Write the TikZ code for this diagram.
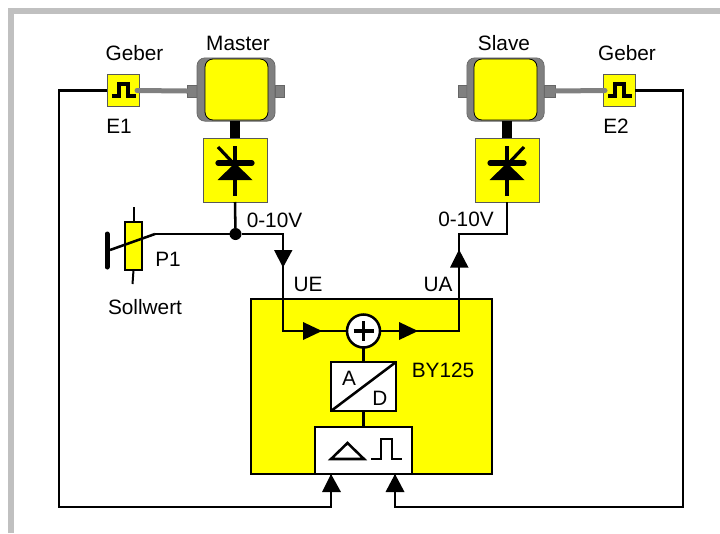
\documentclass[tikz,border=0pt]{standalone}
\usepackage{fontspec}
\setmainfont{Liberation Sans}
\usetikzlibrary{calc}
\definecolor{yel}{RGB}{255,255,0}
\definecolor{gry}{RGB}{128,128,128}
\definecolor{frm}{RGB}{192,192,192}
\tikzset{
  x=0.75pt,y=-0.75pt,
  every node/.style={outer sep=0pt,inner sep=0pt},
  lbl/.style={font=\fontsize{15.6}{18}\selectfont,text=black},
  wire/.style={line width=1.9pt,black,line join=miter},
  arr/.style={fill=black,draw=none},
  sym/.style={line width=1.9pt,black,line join=miter},
  ybox/.style={fill=yel,draw=black!65,line width=.7pt},
  wbox/.style={fill=white,draw=black,line width=1.9pt},
  stub/.style={draw=black!60,fill=gry,line width=.5pt,minimum height=9pt},
  housing/.style={draw=black!60,fill=gry,line width=.5pt,rounded corners=6pt},
  core/.style={draw=black,fill=yel,line width=.6pt,rounded corners=6pt},
  shaft/.style={gry,line width=3.75pt},
  dshaft/.style={black,line width=7.5pt},
}
\newcommand{\thyr}[2]{% centre x, slash sign
  \draw[black,line width=2.4pt] (#1,146) -- (#1,196);
  \fill[black] (#1-17.5,180) -- (#1+17.5,180) -- (#1,163) -- cycle;
  \draw[black,line width=3.9pt,line cap=round] (#1-17,163) -- (#1+17,163);
  \draw[black,line width=2.4pt] (#1,165) -- (#1+#2*17,147);
}
\newcommand{\pulse}[1]{%
  \draw[black,line width=2.4pt,line join=miter] (#1-11,96) -- (#1-4,96) -- (#1-4,84) -- (#1+5,84) -- (#1+5,96) -- (#1+13,96);
}
\begin{document}
\begin{tikzpicture}
\useasboundingbox (0,0) rectangle (720,533);
\fill[white] (0,0) rectangle (720,533);
\draw[frm,line width=4.2pt] (11,533) -- (11,10.8) -- (720,10.8);
% motors
\node[stub,minimum width=7.5pt] (ms) at (192,91) {};
\node[stub,minimum width=6.75pt] (mr) at (279.5,91) {};
\node[stub,minimum width=6.75pt] (sl) at (462.5,91) {};
\node[stub,minimum width=8.25pt] (sr) at (549.5,91) {};
\node[housing,minimum width=58.5pt,minimum height=47.5pt] (mh) at (236,89.5) {};
\node[core,minimum width=47.25pt,minimum height=45.75pt] (mc) at (236.5,89.5) {};
\node[housing,minimum width=58pt,minimum height=47.5pt] (sh) at (505.5,89.5) {};
\node[core,minimum width=47.25pt,minimum height=45.75pt] (sc) at (505.5,89.5) {};
\node[lbl] at (238,43) {Master};
\node[lbl] at (504,43) {Slave};
% encoders
\node[ybox,minimum width=24pt,minimum height=24.5pt] (e1) at (123,90.5) {};
\node[ybox,minimum width=24pt,minimum height=24.5pt] (e2) at (619,90.5) {};
\coordinate (e1s) at (137,90.5);
\coordinate (e2s) at (605,90.5);
\draw[shaft,line cap=round] (e1s) -- (ms.west);
\draw[shaft,line cap=round] (e2s) -- (sr.east);
\pulse{123}
\pulse{619}
\node[lbl] at (134.5,53) {Geber};
\node[lbl] at (627,53) {Geber};
\node[lbl] at (119,126) {E1};
\node[lbl] at (616,126) {E2};
% thyristors
\node[ybox,minimum width=48pt,minimum height=48pt] (t1) at (235,170) {};
\node[ybox,minimum width=48pt,minimum height=48pt] (t2) at (507,170) {};
\draw[dshaft] (t1.north) -- (t1.north |- mh.south);
\draw[dshaft] (t2.north) -- (t2.north |- sh.south);
\thyr{235}{-1}
\thyr{507}{1}
% main unit
\node[fill=yel,draw=black,line width=1.9pt,minimum width=180.75pt,minimum height=131.25pt] (by) at (371.5,386.5) {};
\node[circle,fill=white,draw=black,line width=1.9pt,minimum size=24.75pt] (sum) at (363.5,331) {};
\draw[black,line width=2.4pt] (353.5,331) -- (373.5,331) (363.5,321) -- (363.5,341);
\node[wbox,minimum width=48.75pt,minimum height=36.75pt] (ad) at (363.5,386.5) {};
\node[wbox,minimum width=72.75pt,minimum height=35.25pt] (conv) at (363.5,450.5) {};
\draw[wire] (ad.south west) -- (ad.north east);
\node[lbl] at (349,378) {A};
\node[lbl] at (380,398) {D};
\node[lbl] at (443,370) {BY125};
\draw[sym] (331,459) -- (347.5,443) -- (364,459) -- cycle;
\draw[sym] (371,459) -- (381,459) -- (381,439) -- (392,439) -- (392,459) -- (402,459);
\draw[wire] (sum) -- (ad);
\draw[wire] (ad) -- (conv);
% potentiometer
\node[fill=yel,draw=black,line width=1.5pt,minimum width=12.75pt,minimum height=36pt] (p1) at (133.5,246) {};
\draw[black,line width=1.5pt] (p1.north) -- (133.5,207);
\draw[black,line width=1.5pt] (p1.south) -- (132.5,284);
\draw[black,line width=3.75pt,line cap=round] (107,234) -- (107,267);
\node[lbl] at (168,259) {P1};
\node[lbl] at (145,307) {Sollwert};
% wiring
\node[circle,fill=black,minimum size=9pt] (dot) at (235.5,234) {};
\coordinate (w1) at (283,234);
\coordinate (w2) at (283,331);
\coordinate (w3) at (459,331);
\coordinate (w4) at (459,234);
\coordinate (w5) at (507,234);
\draw[wire] (t1.south) -- (dot);
\draw[wire] (155,234) -- (dot) -- (w1) -- (w2) -- (sum);
\draw[wire] (155,234) -- (110,250);
\draw[wire] (sum) -- (w3) -- (w4) -- (w5) -- (t2.south);
\coordinate (l1) at (331,507);
\coordinate (l2) at (395,507);
\draw[wire] (e1.west) -| (59,507) -- (l1) -- (l1 |- conv.south);
\draw[wire] (e2.east) -| (683,507) -- (l2) -- (l2 |- conv.south);
% arrowheads
\fill[arr] (274,250) -- (292.5,250) -- (283,267.5) -- cycle;
\fill[arr] (450,267.5) -- (468.5,267.5) -- (459,249.5) -- cycle;
\fill[arr] (303,322) -- (322,331) -- (303,340) -- cycle;
\fill[arr] (399,322) -- (418,331) -- (399,340) -- cycle;
\fill[arr] (322,492) -- (341,492) -- (331,474) -- cycle;
\fill[arr] (385.5,492) -- (404.5,492) -- (395,474) -- cycle;
\node[lbl] at (274.5,220) {0-10V};
\node[lbl] at (466,219.5) {0-10V};
\node[lbl] at (308,284) {UE};
\node[lbl] at (438,284) {UA};
\end{tikzpicture}
\end{document}
